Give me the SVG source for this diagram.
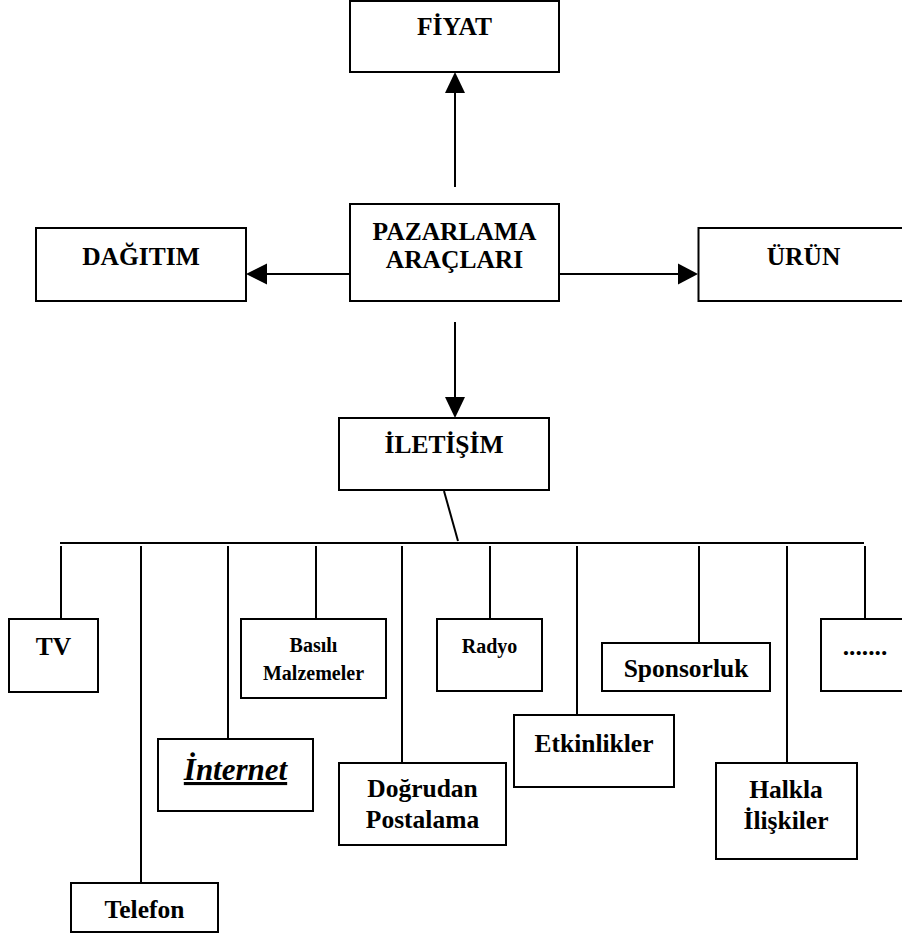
<svg xmlns="http://www.w3.org/2000/svg" width="902" height="936" viewBox="0 0 902 936">
<style>
.box{fill:#fff;stroke:#000;stroke-width:2}
.ln{stroke:#000;stroke-width:2;fill:none}
.hd{fill:#000}
text{font-family:"Liberation Serif","Times New Roman",serif;font-weight:bold;fill:#000;text-anchor:middle}
.t{font-size:25.5px}
.s{font-size:20px}
.i{font-size:31px;font-style:italic;text-decoration:underline}
</style>
<rect width="902" height="936" fill="#fff"/>
<g id="connectors">
<line class="ln" x1="455" y1="187" x2="455" y2="92"/>
<polygon class="hd" points="455,72 445,93 465,93"/>
<line class="ln" x1="350" y1="274" x2="266" y2="274"/>
<polygon class="hd" points="246,274 267,263.5 267,284.5"/>
<line class="ln" x1="559" y1="274" x2="679" y2="274"/>
<polygon class="hd" points="698,274 678,263.5 678,284.5"/>
<line class="ln" x1="455" y1="322" x2="455" y2="398"/>
<polygon class="hd" points="455,418 445,397 465,397"/>
<line class="ln" x1="444" y1="491" x2="458" y2="541"/>
<line class="ln" x1="60" y1="543" x2="864" y2="543"/>
<line class="ln" x1="61" y1="546" x2="61" y2="619"/>
<line class="ln" x1="141" y1="546" x2="141" y2="883"/>
<line class="ln" x1="228" y1="546" x2="228" y2="739"/>
<line class="ln" x1="316" y1="546" x2="316" y2="619"/>
<line class="ln" x1="402" y1="546" x2="402" y2="763"/>
<line class="ln" x1="490" y1="546" x2="490" y2="619"/>
<line class="ln" x1="577" y1="546" x2="577" y2="715"/>
<line class="ln" x1="699" y1="546" x2="699" y2="643"/>
<line class="ln" x1="787" y1="546" x2="787" y2="763"/>
<line class="ln" x1="865" y1="546" x2="865" y2="619"/>
</g>
<g id="fiyat"><rect class="box" x="350" y="1" width="209" height="71"/><text class="t" x="454.5" y="35">FİYAT</text></g>
<g id="pazarlama"><rect class="box" x="350" y="204" width="209" height="97"/><text class="t" x="454.5" y="240">PAZARLAMA</text><text class="t" x="454.5" y="268">ARAÇLARI</text></g>
<g id="dagitim"><rect class="box" x="36" y="228" width="210" height="73"/><text class="t" x="141" y="265">DAĞITIM</text></g>
<g id="urun"><rect class="box" x="698.5" y="228" width="210" height="73"/><text class="t" x="803.5" y="265">ÜRÜN</text></g>
<g id="iletisim"><rect class="box" x="339" y="418" width="210" height="72"/><text class="t" x="444" y="453">İLETİŞİM</text></g>
<g id="tv"><rect class="box" x="9" y="619" width="89" height="73"/><text class="t" x="53.5" y="655">TV</text></g>
<g id="telefon"><rect class="box" x="71" y="883" width="147" height="49"/><text class="t" x="144.5" y="918">Telefon</text></g>
<g id="internet"><rect class="box" x="158" y="739" width="155" height="72"/><text class="i" x="235.5" y="780">İnternet</text></g>
<g id="basili"><rect class="box" x="241" y="619" width="145" height="79"/><text class="s" x="313.5" y="652">Basılı</text><text class="s" x="313.5" y="680">Malzemeler</text></g>
<g id="dogrudan"><rect class="box" x="339" y="763" width="167" height="82"/><text class="t" x="422.5" y="797">Doğrudan</text><text class="t" x="422.5" y="828">Postalama</text></g>
<g id="radyo"><rect class="box" x="437" y="619" width="105" height="72"/><text class="s" x="489.5" y="653">Radyo</text></g>
<g id="etkinlikler"><rect class="box" x="514" y="715" width="160" height="72"/><text class="t" x="594" y="752">Etkinlikler</text></g>
<g id="sponsorluk"><rect class="box" x="602" y="643" width="168" height="48"/><text class="t" x="686" y="677">Sponsorluk</text></g>
<g id="halkla"><rect class="box" x="716" y="763" width="141" height="96"/><text class="t" x="786" y="798">Halkla</text><text class="t" x="786" y="829">İlişkiler</text></g>
<g id="diger"><rect class="box" x="821" y="619" width="90" height="72"/><text class="t" x="865" y="655">.......</text></g>
</svg>
